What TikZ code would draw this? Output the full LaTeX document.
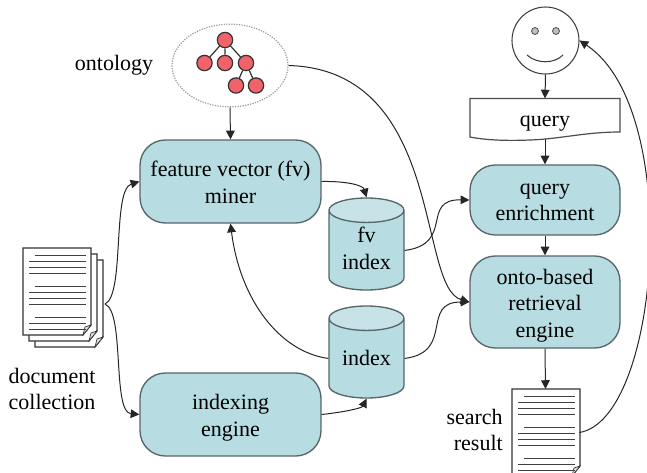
\documentclass[tikz,border=0pt]{standalone}
\usepackage{fontspec}
\setmainfont{Liberation Serif}
\usetikzlibrary{arrows.meta,shapes.geometric}
\definecolor{boxfill}{HTML}{B7DCE1}
\definecolor{boxtop}{HTML}{C8E3E8}
\definecolor{boxline}{HTML}{56666A}
\definecolor{redball}{HTML}{F0636B}
\newcommand{\pagesheet}{%
  \draw[pageline,fill=white] (0,0) -- (68,0) -- (68,77) -- (60,87) -- (0,87) -- cycle;
  \draw[pageline,fill=black!12,line width=.5pt] (60,87) -- (62,79) -- (68,77) -- cycle;
}
\newcommand{\pagetext}{%
  \foreach \yy/\xx in {7/12,13/6,19/6,25/6,38/12,44/6,50/6,56/6,69/12,75/6,81/6}
    \draw[textline] (\xx,\yy) -- (63,\yy);
}
\newcommand{\dropby}[1]{\rule{0pt}{#1}}
\newcommand{\liftby}[1]{\rule[-#1]{0pt}{0pt}}
\tikzset{
  every node/.style={font=\fontsize{16.5}{20}\selectfont,align=center,inner sep=0pt},
  tealbox/.style={draw=boxline,line width=1pt,fill=boxfill,rounded corners=19pt,
    minimum width=#1*.75pt},
  drum/.style={cylinder,shape border rotate=90,aspect=.5,draw=boxline,line width=1pt,
    cylinder uses custom fill,cylinder body fill=boxfill,cylinder end fill=boxtop,
    minimum width=56.25pt,minimum height=69pt,anchor=shape center},
  link/.style={draw=black!85,line width=.75pt,-{Triangle[length=6.5pt,width=6.5pt]}},
  pageline/.style={draw=black!80,line width=.9pt},
  textline/.style={draw=black!75,line width=.75pt},
  ball/.style={circle,draw=black!80,line width=.9pt,fill=redball,minimum size=11.5pt},
  twig/.style={draw=black!80,line width=.9pt},
  eye/.style={circle,draw=black!70,line width=.6pt,fill=black!25,minimum size=5.2pt},
}
\begin{document}
\begin{tikzpicture}[x=.75pt,y=-.75pt]
\useasboundingbox (0,0) rectangle (647,472);
% ontology
\node[ellipse,draw=black!40,densely dotted,line width=.9pt,minimum width=87pt,minimum height=62pt] (onto) at (230,65.5) {};
\node[ball] (n0) at (225,40) {};
\node[ball] (n1) at (204.5,63) {};
\node[ball] (n2) at (225,63) {};
\node[ball] (n3) at (246,63) {};
\node[ball] (n4) at (236,85.5) {};
\node[ball] (n5) at (256,85.5) {};
\draw[twig] (n0) -- (n1) (n0) -- (n2) (n0) -- (n3) (n3) -- (n4) (n3) -- (n5);
\node (ontolabel) at (114,65) {ontology};
% boxes
\node[tealbox=181,minimum height=62.25pt] (miner) at (230.5,181.5) {\dropby{13pt}feature vector (fv)\\miner};
\node[tealbox=181,minimum height=62.25pt] (indexing) at (230.5,414.5) {\dropby{16pt}indexing\\engine};
\node[tealbox=150,minimum height=52.5pt] (enrich) at (545,200) {\dropby{11.5pt}query\\enrichment};
\node[tealbox=150,minimum height=69pt] (retrieval) at (545,302) {\dropby{17pt}onto-based\\retrieval\\engine};
% cylinders
\node[drum] (fv) at (366.5,244) {fv\\index\liftby{3pt}};
\node[drum] (index) at (366.5,352) {index\liftby{1.5pt}};
% smiley
\node[circle,draw=black!75,line width=.8pt,fill=white,minimum size=50.25pt] (face) at (545.5,40.5) {};
\node[eye] (eyeL) at (535,31) {};
\node[eye] (eyeR) at (556,31) {};
\draw[draw=black!75,line width=.8pt] (527,55) .. controls (537,64) and (554,64) .. (563,55);
% query
\node[minimum width=112.5pt,minimum height=29pt] (query) at (545,118) {\dropby{16pt}query};
\draw[draw=black!70,fill=none,line width=.9pt] (470,98.5) -- (620,98.5) -- (620,132)
  .. controls (585,132) and (560,139) .. (530,140) .. controls (505,141) and (485,140) .. (470,137) -- cycle;
% documents
\begin{scope}[shift={(35,260)}]\pagesheet\end{scope}
\begin{scope}[shift={(29,254)}]\pagesheet\end{scope}
\begin{scope}[shift={(23,248)}]\pagesheet\pagetext\end{scope}
\coordinate (docs) at (105,304);
\node (docslabel) at (52,389) {document\\collection};
% result
\node[minimum width=50.25pt,minimum height=65pt] (result) at (545.5,432.5) {};
\begin{scope}[shift={(512,389)}]\pagesheet\pagetext\end{scope}
\node[align=right,anchor=east] (resultlabel) at (503,430) {search\\result};
% connectors
\draw[link] (onto.south) -- (miner.north);
\draw[link] (miner.east) .. controls (345,181) and (363,185) .. (fv.north);
\draw[link] (indexing.east) .. controls (345,412) and (362,408) .. (index.south);
\draw[link] (docs) .. controls (125,295) and (112,190) .. (miner.west);
\draw[link] (docs) .. controls (125,312) and (112,412) .. (indexing.west);
\draw[link] (index.west) .. controls (280,352) and (240,300) .. (miner.south);
\draw[link] (fv.east) .. controls (455,244) and (420,199) .. (enrich.west);
\draw[link] (index.east) .. controls (455,352) and (420,302) .. (retrieval.west);
\draw[link] (onto.east) .. controls (445,70) and (417,287) .. (retrieval.west);
\draw[link] (face.south) -- (query.north);
\draw[link] (545,139) -- (enrich.north);
\draw[link] (enrich.south) -- (retrieval.north);
\draw[link] (retrieval.south) -- (result.north);
\draw[link] (result.east) .. controls (660,420) and (684,110) .. (face.east);
\end{tikzpicture}
\end{document}
